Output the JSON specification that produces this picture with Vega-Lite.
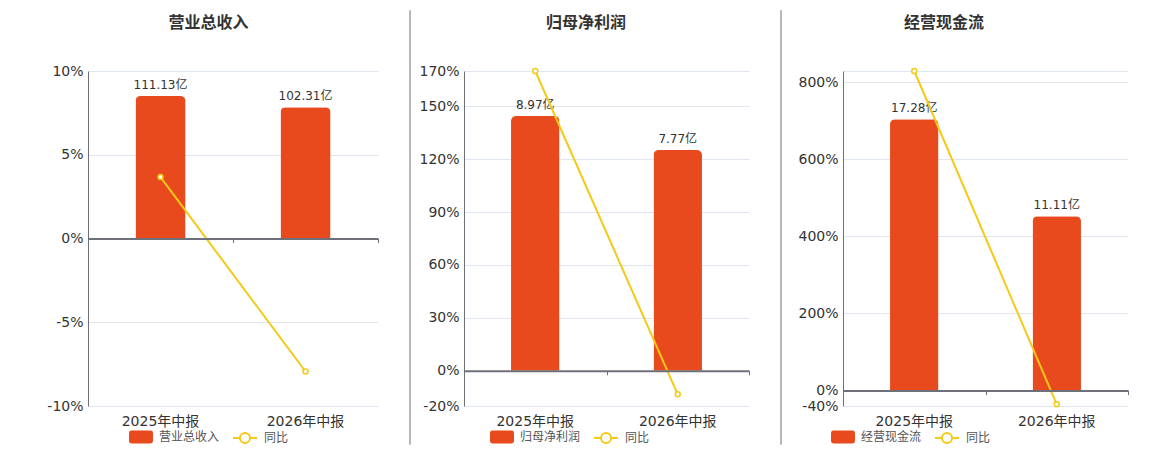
{
  "$schema": "https://vega.github.io/schema/vega-lite/v6.json",
  "padding": {"left": 46, "top": 10, "right": 0, "bottom": 0},
  "config": {
    "font": "DejaVu Sans, Noto Sans CJK SC",
    "view": {"stroke": null},
    "legend": {"layout": {"bottom": {"anchor": "middle", "direction": "horizontal", "margin": 12}}}
  },
  "spacing": 26,
  "resolve": {"scale": {"fill": "independent", "stroke": "independent"}, "legend": {"fill": "independent", "stroke": "independent"}},
  "hconcat": [
    {
      "bounds": "flush",
      "spacing": 36,
      "resolve": {"scale": {"fill": "independent", "stroke": "independent"}, "legend": {"fill": "independent", "stroke": "independent"}},
      "vconcat": [
        {
          "width": 241, "height": 24,
          "data": {"values": [{"t": "营业总收入"}]},
          "mark": {"type": "text", "fontSize": 16, "fontWeight": "bold", "color": "#333333"},
          "encoding": {"text": {"field": "t", "type": "nominal"}}
        },
        {
          "bounds": "flush",
          "spacing": 18,
          "resolve": {"scale": {"fill": "independent", "stroke": "independent"}, "legend": {"fill": "independent", "stroke": "independent"}},
          "vconcat": [
            {
              "width": 290, "height": 335,
              "data": {"values": [
                {"period": "2025年中报", "value": 111.13, "label": "111.13亿", "yoy": 3.67},
                {"period": "2026年中报", "value": 102.31, "label": "102.31亿", "yoy": -7.94}
              ]},
              "layer": [
                {
                  "mark": {"type": "bar", "color": "#E84A1D", "width": {"band": 0.345}, "cornerRadiusTopLeft": 5, "cornerRadiusTopRight": 5},
                  "encoding": {
                    "x": {"field": "period", "type": "nominal", "sort": null, "scale": {"type": "band", "paddingInner": 0, "paddingOuter": 0},
                          "axis": {"orient": "bottom", "domain": false, "ticks": false, "labelPadding": 8, "labelFontSize": 14, "labelColor": "#333333", "labelAngle": 0, "title": null, "grid": false}},
                    "y": {"field": "value", "type": "quantitative", "scale": {"domain": [-130.6, 130.6], "nice": false}, "axis": null}
                  }
                },
                {
                  "mark": {"type": "text", "baseline": "bottom", "dy": -4, "fontSize": 12, "color": "#333333"},
                  "encoding": {
                    "x": {"field": "period", "type": "nominal", "sort": null, "scale": {"type": "band", "paddingInner": 0, "paddingOuter": 0}, "axis": null},
                    "y": {"field": "value", "type": "quantitative", "scale": {"domain": [-130.6, 130.6], "nice": false}, "axis": null},
                    "text": {"field": "label", "type": "nominal"}
                  }
                },
                {
                  "mark": {"type": "line", "color": "#F4C917", "strokeWidth": 2, "point": {"filled": false, "fill": "#ffffff", "color": "#F4C917", "size": 25, "strokeWidth": 1.5}},
                  "encoding": {
                    "x": {"field": "period", "type": "nominal", "sort": null, "scale": {"type": "band", "paddingInner": 0, "paddingOuter": 0},
                          "axis": {"orient": "bottom", "offset": -167.5, "labels": false, "domain": true, "domainColor": "#6E7079", "domainWidth": 2, "ticks": true, "tickBand": "extent", "tickColor": "#6E7079", "tickSize": 4, "title": null, "grid": false, "zindex": 1}},
                    "y": {"field": "yoy", "type": "quantitative", "scale": {"domain": [-10, 10], "nice": false},
                          "axis": {"orient": "left", "values": [-10, -5, 0, 5, 10], "labelExpr": "datum.value + '%'", "grid": true, "gridColor": "#E0E6F1", "domain": true, "domainColor": "#6E7079", "ticks": false, "labelPadding": 5, "labelFontSize": 14, "labelColor": "#333333", "title": null}}
                  }
                }
              ],
              "resolve": {"scale": {"y": "independent"}, "axis": {"x": "independent", "y": "independent"}}
            },
            {
              "width": 241, "height": 1,
              "data": {"values": [{"k": 0}]},
              "layer": [
                {
                  "mark": {"type": "point", "filled": true, "size": 0},
                  "encoding": {
                    "fill": {"datum": "营业总收入", "type": "nominal", "scale": {"range": ["#E84A1D"]},
                             "legend": {"orient": "bottom", "title": null, "symbolType": "M-0.8,-0.54L0.8,-0.54Q1,-0.54,1,-0.34L1,0.34Q1,0.54,0.8,0.54L-0.8,0.54Q-1,0.54,-1,0.34L-1,-0.34Q-1,-0.54,-0.8,-0.54Z", "symbolSize": 576, "symbolStrokeWidth": 0, "symbolOpacity": 1, "labelFontSize": 12, "labelColor": "#555555", "labelOffset": 6, "offset": 0, "padding": 0}}
                  }
                },
                {
                  "mark": {"type": "point", "filled": false, "size": 0},
                  "encoding": {
                    "stroke": {"datum": "同比", "type": "nominal", "scale": {"range": ["#F4C917"]},
                               "legend": {"orient": "bottom", "title": null, "symbolType": "M-1,0L-0.42,0M1,0L0.42,0M0.42,0A0.42,0.42,0,1,1,-0.42,0A0.42,0.42,0,1,1,0.42,0", "symbolSize": 576, "symbolStrokeWidth": 2, "symbolFillColor": "#ffffff", "symbolOpacity": 1, "labelFontSize": 12, "labelColor": "#555555", "labelOffset": 6, "offset": 0, "padding": 0}}
                  }
                }
              ]
            }
          ]
        }
      ]
    },
    {
      "spacing": 3,
      "resolve": {"scale": {"fill": "independent", "stroke": "independent"}, "legend": {"fill": "independent", "stroke": "independent"}},
      "hconcat": [
        {
          "width": 0.01, "height": 433,
          "view": {"stroke": "#A0A0A0", "strokeWidth": 1.5},
          "data": {"values": [{"k": 0}]},
          "mark": {"type": "point", "size": 0},
          "encoding": {}
        },
        {
          "bounds": "flush",
          "spacing": 36,
          "resolve": {"scale": {"fill": "independent", "stroke": "independent"}, "legend": {"fill": "independent", "stroke": "independent"}},
          "vconcat": [
            {
              "width": 244, "height": 24,
              "data": {"values": [{"t": "归母净利润"}]},
              "mark": {"type": "text", "fontSize": 16, "fontWeight": "bold", "color": "#333333"},
              "encoding": {"text": {"field": "t", "type": "nominal"}}
            },
            {
              "bounds": "flush",
              "spacing": 18,
              "resolve": {"scale": {"fill": "independent", "stroke": "independent"}, "legend": {"fill": "independent", "stroke": "independent"}},
              "vconcat": [
                {
                  "width": 285, "height": 335,
                  "data": {"values": [
                    {"period": "2025年中报", "value": 8.97, "label": "8.97亿", "yoy": 170},
                    {"period": "2026年中报", "value": 7.77, "label": "7.77亿", "yoy": -13.38}
                  ]},
                  "layer": [
                    {
                      "mark": {"type": "bar", "color": "#E84A1D", "width": {"band": 0.34}, "cornerRadiusTopLeft": 5, "cornerRadiusTopRight": 5},
                      "encoding": {
                        "x": {"field": "period", "type": "nominal", "sort": null, "scale": {"type": "band", "paddingInner": 0, "paddingOuter": 0},
                              "axis": {"orient": "bottom", "domain": false, "ticks": false, "labelPadding": 8, "labelFontSize": 14, "labelColor": "#333333", "labelAngle": 0, "title": null, "grid": false}},
                        "y": {"field": "value", "type": "quantitative", "scale": {"domain": [-1.2418, 10.555], "nice": false}, "axis": null}
                      }
                    },
                    {
                      "mark": {"type": "text", "baseline": "bottom", "dy": -4, "fontSize": 12, "color": "#333333"},
                      "encoding": {
                        "x": {"field": "period", "type": "nominal", "sort": null, "scale": {"type": "band", "paddingInner": 0, "paddingOuter": 0}, "axis": null},
                        "y": {"field": "value", "type": "quantitative", "scale": {"domain": [-1.2418, 10.555], "nice": false}, "axis": null},
                        "text": {"field": "label", "type": "nominal"}
                      }
                    },
                    {
                      "mark": {"type": "line", "color": "#F4C917", "strokeWidth": 2, "point": {"filled": false, "fill": "#ffffff", "color": "#F4C917", "size": 25, "strokeWidth": 1.5}},
                      "encoding": {
                        "x": {"field": "period", "type": "nominal", "sort": null, "scale": {"type": "band", "paddingInner": 0, "paddingOuter": 0},
                              "axis": {"orient": "bottom", "offset": -35.26, "labels": false, "domain": true, "domainColor": "#6E7079", "domainWidth": 2, "ticks": true, "tickBand": "extent", "tickColor": "#6E7079", "tickSize": 4, "title": null, "grid": false, "zindex": 1}},
                        "y": {"field": "yoy", "type": "quantitative", "scale": {"domain": [-20, 170], "nice": false},
                              "axis": {"orient": "left", "values": [-20, 0, 30, 60, 90, 120, 150, 170], "labelExpr": "datum.value + '%'", "grid": true, "gridColor": "#E0E6F1", "domain": true, "domainColor": "#6E7079", "ticks": false, "labelPadding": 5, "labelFontSize": 14, "labelColor": "#333333", "title": null}}
                      }
                    }
                  ],
                  "resolve": {"scale": {"y": "independent"}, "axis": {"x": "independent", "y": "independent"}}
                },
                {
                  "width": 212, "height": 1,
                  "data": {"values": [{"k": 0}]},
                  "layer": [
                    {
                      "mark": {"type": "point", "filled": true, "size": 0},
                      "encoding": {
                        "fill": {"datum": "归母净利润", "type": "nominal", "scale": {"range": ["#E84A1D"]},
                                 "legend": {"orient": "bottom", "title": null, "symbolType": "M-0.8,-0.54L0.8,-0.54Q1,-0.54,1,-0.34L1,0.34Q1,0.54,0.8,0.54L-0.8,0.54Q-1,0.54,-1,0.34L-1,-0.34Q-1,-0.54,-0.8,-0.54Z", "symbolSize": 576, "symbolStrokeWidth": 0, "symbolOpacity": 1, "labelFontSize": 12, "labelColor": "#555555", "labelOffset": 6, "offset": 0, "padding": 0}}
                      }
                    },
                    {
                      "mark": {"type": "point", "filled": false, "size": 0},
                      "encoding": {
                        "stroke": {"datum": "同比", "type": "nominal", "scale": {"range": ["#F4C917"]},
                                   "legend": {"orient": "bottom", "title": null, "symbolType": "M-1,0L-0.42,0M1,0L0.42,0M0.42,0A0.42,0.42,0,1,1,-0.42,0A0.42,0.42,0,1,1,0.42,0", "symbolSize": 576, "symbolStrokeWidth": 2, "symbolFillColor": "#ffffff", "symbolOpacity": 1, "labelFontSize": 12, "labelColor": "#555555", "labelOffset": 6, "offset": 0, "padding": 0}}
                      }
                    }
                  ]
                }
              ]
            }
          ]
        }
      ]
    },
    {
      "spacing": 11,
      "resolve": {"scale": {"fill": "independent", "stroke": "independent"}, "legend": {"fill": "independent", "stroke": "independent"}},
      "hconcat": [
        {
          "width": 0.01, "height": 433,
          "view": {"stroke": "#A0A0A0", "strokeWidth": 1.5},
          "data": {"values": [{"k": 0}]},
          "mark": {"type": "point", "size": 0},
          "encoding": {}
        },
        {
          "bounds": "flush",
          "spacing": 36,
          "resolve": {"scale": {"fill": "independent", "stroke": "independent"}, "legend": {"fill": "independent", "stroke": "independent"}},
          "vconcat": [
            {
              "width": 202, "height": 24,
              "data": {"values": [{"t": "经营现金流"}]},
              "mark": {"type": "text", "fontSize": 16, "fontWeight": "bold", "color": "#333333"},
              "encoding": {"text": {"field": "t", "type": "nominal"}}
            },
            {
              "bounds": "flush",
              "spacing": 18,
              "resolve": {"scale": {"fill": "independent", "stroke": "independent"}, "legend": {"fill": "independent", "stroke": "independent"}},
              "vconcat": [
                {
                  "width": 285, "height": 335,
                  "data": {"values": [
                    {"period": "2025年中报", "value": 17.28, "label": "17.28亿", "yoy": 829},
                    {"period": "2026年中报", "value": 11.11, "label": "11.11亿", "yoy": -35.71}
                  ]},
                  "layer": [
                    {
                      "mark": {"type": "bar", "color": "#E84A1D", "width": {"band": 0.34}, "cornerRadiusTopLeft": 5, "cornerRadiusTopRight": 5},
                      "encoding": {
                        "x": {"field": "period", "type": "nominal", "sort": null, "scale": {"type": "band", "paddingInner": 0, "paddingOuter": 0},
                              "axis": {"orient": "bottom", "domain": false, "ticks": false, "labelPadding": 8, "labelFontSize": 14, "labelColor": "#333333", "labelAngle": 0, "title": null, "grid": false}},
                        "y": {"field": "value", "type": "quantitative", "scale": {"domain": [-0.982, 20.357], "nice": false}, "axis": null}
                      }
                    },
                    {
                      "mark": {"type": "text", "baseline": "bottom", "dy": -4, "fontSize": 12, "color": "#333333"},
                      "encoding": {
                        "x": {"field": "period", "type": "nominal", "sort": null, "scale": {"type": "band", "paddingInner": 0, "paddingOuter": 0}, "axis": null},
                        "y": {"field": "value", "type": "quantitative", "scale": {"domain": [-0.982, 20.357], "nice": false}, "axis": null},
                        "text": {"field": "label", "type": "nominal"}
                      }
                    },
                    {
                      "mark": {"type": "line", "color": "#F4C917", "strokeWidth": 2, "point": {"filled": false, "fill": "#ffffff", "color": "#F4C917", "size": 25, "strokeWidth": 1.5}},
                      "encoding": {
                        "x": {"field": "period", "type": "nominal", "sort": null, "scale": {"type": "band", "paddingInner": 0, "paddingOuter": 0},
                              "axis": {"orient": "bottom", "offset": -15.42, "labels": false, "domain": true, "domainColor": "#6E7079", "domainWidth": 2, "ticks": true, "tickBand": "extent", "tickColor": "#6E7079", "tickSize": 4, "title": null, "grid": false, "zindex": 1}},
                        "y": {"field": "yoy", "type": "quantitative", "scale": {"domain": [-40, 829], "nice": false},
                              "axis": {"orient": "left", "values": [-40, 0, 200, 400, 600, 800, 829], "labelExpr": "datum.value > 820 ? '' : datum.value + '%'", "grid": true, "gridColor": "#E0E6F1", "domain": true, "domainColor": "#6E7079", "ticks": false, "labelPadding": 5, "labelFontSize": 14, "labelColor": "#333333", "title": null}}
                      }
                    }
                  ],
                  "resolve": {"scale": {"y": "independent"}, "axis": {"x": "independent", "y": "independent"}}
                },
                {
                  "width": 136, "height": 1,
                  "data": {"values": [{"k": 0}]},
                  "layer": [
                    {
                      "mark": {"type": "point", "filled": true, "size": 0},
                      "encoding": {
                        "fill": {"datum": "经营现金流", "type": "nominal", "scale": {"range": ["#E84A1D"]},
                                 "legend": {"orient": "bottom", "title": null, "symbolType": "M-0.8,-0.54L0.8,-0.54Q1,-0.54,1,-0.34L1,0.34Q1,0.54,0.8,0.54L-0.8,0.54Q-1,0.54,-1,0.34L-1,-0.34Q-1,-0.54,-0.8,-0.54Z", "symbolSize": 576, "symbolStrokeWidth": 0, "symbolOpacity": 1, "labelFontSize": 12, "labelColor": "#555555", "labelOffset": 6, "offset": 0, "padding": 0}}
                      }
                    },
                    {
                      "mark": {"type": "point", "filled": false, "size": 0},
                      "encoding": {
                        "stroke": {"datum": "同比", "type": "nominal", "scale": {"range": ["#F4C917"]},
                                   "legend": {"orient": "bottom", "title": null, "symbolType": "M-1,0L-0.42,0M1,0L0.42,0M0.42,0A0.42,0.42,0,1,1,-0.42,0A0.42,0.42,0,1,1,0.42,0", "symbolSize": 576, "symbolStrokeWidth": 2, "symbolFillColor": "#ffffff", "symbolOpacity": 1, "labelFontSize": 12, "labelColor": "#555555", "labelOffset": 6, "offset": 0, "padding": 0}}
                      }
                    }
                  ]
                }
              ]
            }
          ]
        }
      ]
    }
  ]
}
